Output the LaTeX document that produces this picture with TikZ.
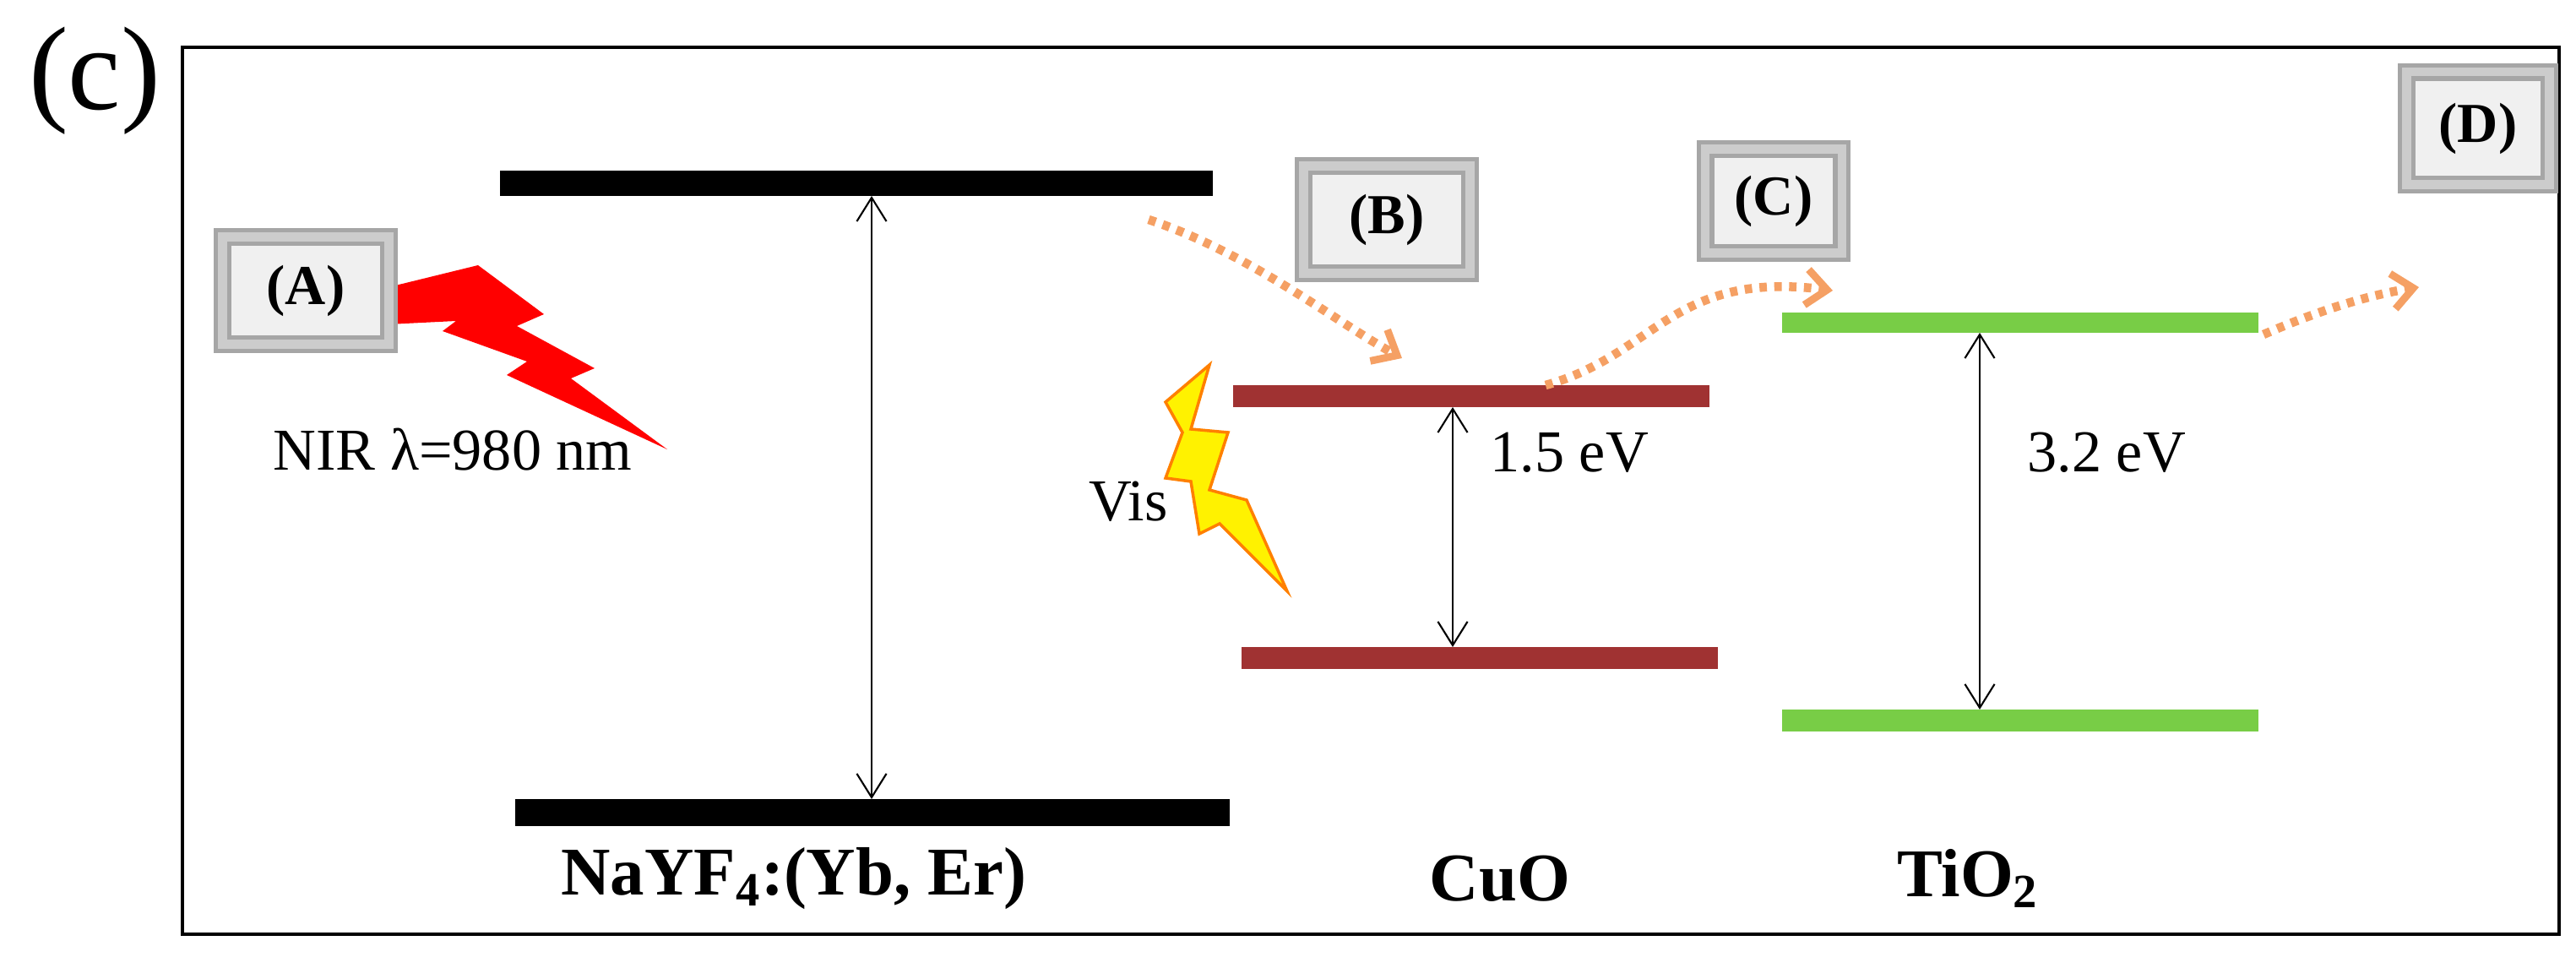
\documentclass[tikz,border=0pt]{standalone}
\usepackage{fontspec}
\setmainfont{Liberation Serif}
\usetikzlibrary{arrows.meta}
\definecolor{cuo}{RGB}{160,50,50}
\definecolor{tio}{RGB}{120,205,70}
\definecolor{orng}{RGB}{245,160,100}
\begin{document}
\begin{tikzpicture}[x=0.02cm,y=-0.02cm,
  dbl/.style={{Straight Barb[length=8pt,width=10pt]}-{Straight Barb[length=8pt,width=10pt]},line width=0.6pt},
  dots/.style={orng,line width=3pt,dash pattern=on 2.5pt off 2.5pt,-{Straight Barb[length=7pt,width=12pt,line width=2.5pt]}},
  btn/.style={draw=gray!70,line width=1.5pt,fill=gray!12,minimum width=#1,inner sep=0pt,font=\fontsize{19}{21}\selectfont\bfseries,double=gray!40,double distance=3pt},
  txt/.style={font=\fontsize{20}{23}\selectfont},
  lab/.style={font=\fontsize{23}{26}\selectfont\bfseries}]
\useasboundingbox (0,0) rectangle (1525,573);
\node[font=\fontsize{40}{44}\selectfont] (c) at (56,48) {(c)};
\draw[line width=1.2pt] (108,28) rectangle (1515,553);
% NaYF4 levels
\fill (296,101) rectangle (718,116);
\fill (305,473) rectangle (728,489);
\coordinate (n1) at (516,116); \coordinate (n2) at (516,473);
\draw[dbl] (n1) -- (n2);
% CuO
\fill[cuo] (730,228) rectangle (1012,241);
\fill[cuo] (735,383) rectangle (1017,396);
\coordinate (c1) at (860,241); \coordinate (c2) at (860,383);
\draw[dbl] (c1) -- (c2);
\node[txt,anchor=west] (e1) at (876,268) {1.5 eV};
% TiO2
\fill[tio] (1055,185) rectangle (1337,197);
\fill[tio] (1055,420) rectangle (1337,433);
\coordinate (t1) at (1172,197); \coordinate (t2) at (1172,420);
\draw[dbl] (t1) -- (t2);
\node[txt,anchor=west] (e2) at (1194,268) {3.2 eV};
% red lightning
\fill[red] (230,170) -- (283,157) -- (322,186) -- (306,193) -- (352,218) -- (338,224) -- (395,266) -- (300,222) -- (312,214) -- (262,196) -- (270,190) -- (230,192) -- cycle;
\node[txt] (nir) at (268,266) {NIR λ=980 nm};
% Vis lightning
\draw[orange,line width=1pt,fill=yellow] (690,238) -- (716,216) -- (705,254) -- (727,256) -- (716,290) -- (738,296) -- (762,350) -- (722,310) -- (710,316) -- (705,285) -- (690,283) -- (700,256) -- cycle;
\node[txt] (vis) at (668,297) {Vis};
% buttons
\node[btn=56pt,minimum height=36pt] (A) at (181,172) {(A)};
\node[btn=56pt,minimum height=36pt] (B) at (821,130) {(B)};
\node[btn=46pt,minimum height=35pt] (C) at (1050,119) {(C)};
\node[btn=48pt,minimum height=38pt] (D) at (1467,76) {(D)};
% dotted arrows
\coordinate (p1) at (680,130); \coordinate (p2) at (830,212);
\draw[dots] (p1) .. controls (740,150) and (790,190) .. (p2);
\coordinate (q1) at (915,228); \coordinate (q2) at (1085,172);
\draw[dots] (q1) .. controls (980,210) and (990,160) .. (q2);
\coordinate (r1) at (1340,198); \coordinate (r2) at (1432,170);
\draw[dots] (r1) .. controls (1370,185) and (1400,175) .. (r2);
% labels
\node[lab] (l1) at (470,520) {NaYF\textsubscript{4}:(Yb, Er)};
\node[lab] (l2) at (888,520) {CuO};
\node[lab] (l3) at (1165,520) {TiO\textsubscript{2}};
\end{tikzpicture}
\end{document}
